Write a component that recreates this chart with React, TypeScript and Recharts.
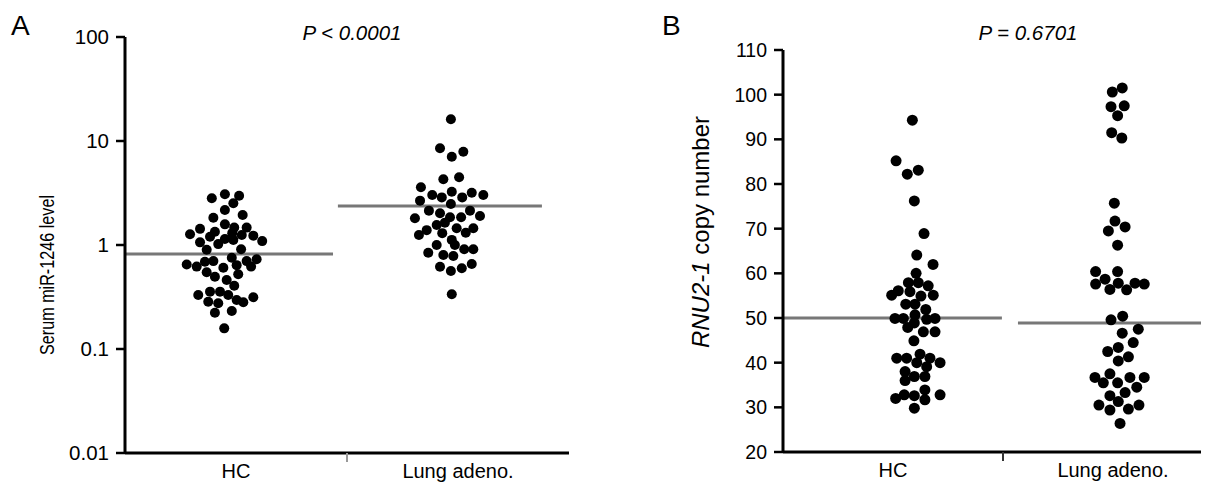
import React from 'react';
import { ScatterChart, Scatter, XAxis, YAxis, ReferenceLine } from 'recharts';

const FONT = '"Liberation Sans", Arial, Helvetica, sans-serif';

const categories = ['HC', 'Lung adeno.'];

// Panel A: serum miR-1246 (log scale)
const ticksA = [0.01, 0.1, 1, 10, 100];
const hcA = [2.81, 3.07, 2.98, 2.52, 2.17, 1.83, 1.94, 1.58, 1.47, 1.27, 1.43, 1.34, 1.2, 1.3, 1.47, 1.25, 1.23, 1.09, 1.06, 1.02, 1.14, 1.12, 0.9, 0.91, 0.65, 0.62, 0.69, 0.7, 0.755, 0.7, 0.73, 0.605, 0.64, 0.62, 0.546, 0.496, 0.523, 0.461, 0.406, 0.33, 0.356, 0.356, 0.33, 0.285, 0.275, 0.296, 0.281, 0.314, 0.223, 0.232, 0.158];
const hcAJitter = [0.391, 0.45, 0.514, 0.488, 0.45, 0.398, 0.53, 0.45, 0.492, 0.293, 0.338, 0.405, 0.383, 0.483, 0.548, 0.526, 0.578, 0.618, 0.338, 0.42, 0.45, 0.488, 0.368, 0.523, 0.278, 0.323, 0.36, 0.398, 0.481, 0.548, 0.593, 0.443, 0.503, 0.568, 0.368, 0.405, 0.51, 0.458, 0.492, 0.33, 0.383, 0.428, 0.465, 0.375, 0.42, 0.503, 0.533, 0.578, 0.405, 0.481, 0.447];
const lungA = [16.2, 8.51, 7.06, 7.89, 4.28, 4.48, 3.59, 3.03, 2.87, 3.25, 2.87, 3.18, 3.03, 2.67, 2.48, 2.14, 2.02, 2.14, 1.81, 1.85, 1.85, 1.9, 1.56, 1.64, 1.45, 1.25, 1.39, 1.3, 1.31, 1.45, 1.12, 1.0, 1.0, 0.843, 0.8, 0.784, 0.909, 0.909, 0.618, 0.562, 0.597, 0.657, 0.336];
const lungAJitter = [1.468, 1.419, 1.472, 1.524, 1.434, 1.505, 1.333, 1.384, 1.427, 1.472, 1.519, 1.562, 1.614, 1.329, 1.468, 1.369, 1.419, 1.554, 1.306, 1.464, 1.514, 1.599, 1.404, 1.441, 1.494, 1.324, 1.359, 1.429, 1.535, 1.569, 1.472, 1.404, 1.486, 1.366, 1.434, 1.479, 1.528, 1.569, 1.419, 1.468, 1.517, 1.562, 1.472];
const meanA = [0.82, 2.37];
const meanSpanA = [[0, 0.937], [0.959, 1.878]];

// Panel B: RNU2-1 copy number
const ticksB = [20, 30, 40, 50, 60, 70, 80, 90, 100, 110];
const hcB = [94.3, 85.2, 82.2, 83.1, 76.2, 68.9, 64.1, 62.0, 60.0, 57.9, 57.9, 57.2, 56.1, 55.1, 55.9, 54.9, 55.1, 53.1, 53.1, 51.9, 49.9, 49.9, 50.7, 48.9, 49.7, 49.9, 47.9, 46.9, 46.9, 44.9, 41.0, 41.0, 41.9, 41.0, 40.0, 40.0, 39.1, 38.0, 36.9, 36.9, 36.0, 32.0, 32.8, 32.6, 33.9, 31.7, 32.8, 29.8];
const hcBJitter = [0.588, 0.514, 0.565, 0.615, 0.597, 0.641, 0.608, 0.682, 0.605, 0.57, 0.615, 0.66, 0.524, 0.494, 0.577, 0.627, 0.683, 0.558, 0.6, 0.649, 0.509, 0.547, 0.6, 0.597, 0.653, 0.691, 0.567, 0.638, 0.691, 0.595, 0.517, 0.562, 0.623, 0.668, 0.714, 0.608, 0.653, 0.555, 0.597, 0.645, 0.555, 0.512, 0.551, 0.597, 0.645, 0.645, 0.714, 0.597];
const lungB = [101.5, 100.6, 97.3, 97.5, 95.3, 91.5, 90.3, 75.7, 71.7, 69.5, 70.4, 66.3, 60.4, 60.4, 58.7, 57.6, 56.4, 57.8, 56.3, 57.8, 57.6, 49.6, 50.4, 46.6, 47.5, 44.5, 43.4, 42.5, 41.3, 40.4, 36.7, 37.5, 35.5, 35.5, 36.7, 36.7, 34.5, 33.3, 32.6, 31.3, 30.5, 29.4, 29.6, 30.5, 26.4];
const lungBJitter = [1.542, 1.497, 1.491, 1.551, 1.521, 1.494, 1.54, 1.506, 1.509, 1.479, 1.555, 1.521, 1.421, 1.521, 1.464, 1.421, 1.486, 1.524, 1.562, 1.6, 1.642, 1.491, 1.544, 1.542, 1.615, 1.592, 1.524, 1.476, 1.57, 1.524, 1.418, 1.486, 1.456, 1.521, 1.577, 1.642, 1.608, 1.555, 1.486, 1.524, 1.436, 1.486, 1.57, 1.618, 1.532];
const meanB = [50.0, 48.9];
const meanSpanB = [[0, 0.995], [1.068, 1.9]];

const toPoints = (xs: number[], ys: number[]) =>
  ys.slice(0, Math.min(xs.length, ys.length)).map((y, i) => ({ x: xs[i], y }));

const makeDot = (r: number) => (props: any) =>
  <circle cx={props.cx} cy={props.cy} r={r} fill="#000" />;

function CategoryTick(props: any) {
  const { x, y, payload, midColor } = props;
  if (payload.value === 1) {
    return <line x1={x} y1={y} x2={x} y2={y + 9} stroke={midColor} strokeWidth={2} />;
  }
  const label = payload.value < 1 ? categories[0] : categories[1];
  return (
    <text x={x} y={y + 25} textAnchor="middle" fontSize={20} fontFamily={FONT} fill="#000">
      {label}
    </text>
  );
}

interface PanelProps {
  width: number;
  margin: { top: number; right: number; bottom: number; left: number };
  xMax: number;
  yScale: 'log' | 'linear';
  yDomain: number[];
  yTicks: number[];
  groups: { x: number; y: number }[][];
  means: number[];
  spans: number[][];
  dotR: number;
  midColor: string;
  tickFont: number;
}

function Panel(p: PanelProps) {
  const axisStyle = { stroke: '#000', strokeWidth: 3 };
  return (
    <ScatterChart width={p.width} height={496} margin={p.margin}>
      <XAxis
        type="number"
        dataKey="x"
        domain={[0, p.xMax]}
        ticks={[0.5, 1, 1.5]}
        allowDataOverflow
        height={30}
        axisLine={axisStyle}
        tickLine={false}
        tickSize={0}
        tickMargin={0}
        tick={(t: any) => <CategoryTick {...t} midColor={p.midColor} />}
      />
      <YAxis
        type="number"
        dataKey="y"
        scale={p.yScale}
        domain={p.yDomain}
        ticks={p.yTicks}
        allowDataOverflow
        width={60}
        axisLine={axisStyle}
        tickLine={{ stroke: '#000', strokeWidth: 2.5 }}
        tickSize={9}
        tickMargin={7}
        tickFormatter={(v: number) => String(v)}
        tick={{ fontSize: p.tickFont, fontFamily: FONT, fill: '#000' }}
      />
      {p.means.map((m, i) => (
        <ReferenceLine
          key={i}
          segment={[{ x: p.spans[i][0], y: m }, { x: p.spans[i][1], y: m }]}
          stroke="#777"
          strokeWidth={3}
          ifOverflow="visible"
        />
      ))}
      {p.groups.map((g, i) => (
        <Scatter key={i} data={g} shape={makeDot(p.dotR)} isAnimationActive={false} />
      ))}
    </ScatterChart>
  );
}

export default function App() {
  return (
    <div style={{ position: 'absolute', left: 0, top: 0, width: 1217, height: 496, background: '#fff', fontFamily: FONT }}>
      <div style={{ position: 'absolute', left: 0, top: 0 }}>
        <Panel
          width={600}
          margin={{ top: 37, right: 31, bottom: 13, left: 65 }}
          xMax={2}
          yScale="log"
          yDomain={[0.01, 100]}
          yTicks={ticksA}
          groups={[toPoints(hcAJitter, hcA), toPoints(lungAJitter, lungA)]}
          means={meanA}
          spans={meanSpanA}
          dotR={5}
          midColor="#999"
          tickFont={20.5}
        />
      </div>
      <div style={{ position: 'absolute', left: 620, top: 0 }}>
        <Panel
          width={597}
          margin={{ top: 50, right: 16, bottom: 14, left: 103 }}
          xMax={1.9}
          yScale="linear"
          yDomain={[20, 110]}
          yTicks={ticksB}
          groups={[toPoints(hcBJitter, hcB), toPoints(lungBJitter, lungB)]}
          means={meanB}
          spans={meanSpanB}
          dotR={5.5}
          midColor="#333"
          tickFont={19.5}
        />
      </div>
      <svg width={1217} height={496} style={{ position: 'absolute', left: 0, top: 0, pointerEvents: 'none' }}>
        <text x={11} y={35} fontSize={28} fontFamily={FONT} fill="#000">A</text>
        <text x={662} y={35} fontSize={28} fontFamily={FONT} fill="#000">B</text>
        <text x={352} y={40} textAnchor="middle" fontSize={20.5} fontStyle="italic" fontFamily={FONT} fill="#000">P &lt; 0.0001</text>
        <text x={1028} y={40} textAnchor="middle" fontSize={20.5} fontStyle="italic" fontFamily={FONT} fill="#000">P = 0.6701</text>
        <text x={54} y={275} transform="rotate(-90 54 275)" textAnchor="middle" fontSize={20} textLength={160} lengthAdjust="spacingAndGlyphs" fontFamily={FONT} fill="#000">
          Serum miR-1246 level
        </text>
        <text x={709} y={232} transform="rotate(-90 709 232)" textAnchor="middle" fontSize={24} fontFamily={FONT} fill="#000">
          <tspan fontStyle="italic">RNU2-1</tspan> copy number
        </text>
      </svg>
    </div>
  );
}
